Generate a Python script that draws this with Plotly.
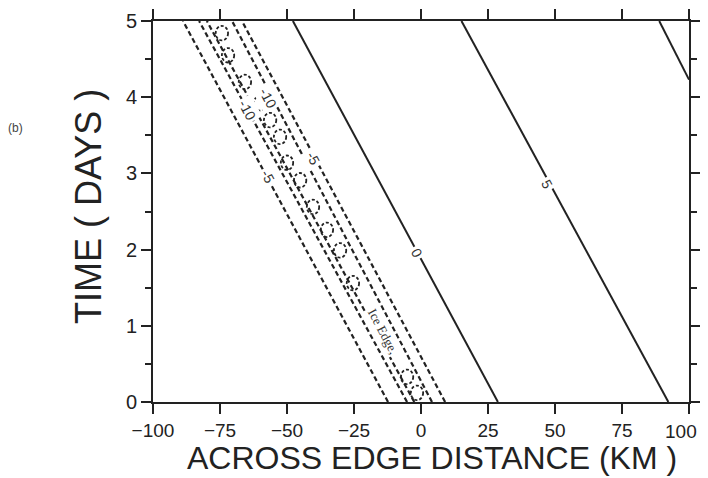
import plotly.graph_objects as go

# ---- data ----
# solid contours (positive values): start/end points (km, days)
solid_labels = ["0", "5", "10"]
solid_x0 = [28.7, 92.3, 100.0]
solid_y0 = [0.0, 0.0, 4.23]
solid_x1 = [-47.8, 15.1, 88.9]
solid_y1 = [5.0, 5.0, 5.0]

# dashed contours (negative values): x at day 0 and day 5 (km)
dashed_levels = ["-5", "-10", "-15", "-10", "-5"]
dashed_x_day0 = [-12.3, -5.2, -2.5, 4.1, 9.0]
dashed_x_day5 = [-88.8, -82.8, -79.9, -70.5, -66.8]

# small closed minima along the ice edge (km, days)
oval_x = [-74.3, -72.0, -65.7, -60.1, -56.3, -52.6, -50.0, -45.1,
          -40.3, -35.1, -30.2, -25.4, -5.2, -1.5]
oval_y = [4.84, 4.55, 4.20, 3.92, 3.70, 3.48, 3.14, 2.91,
          2.56, 2.26, 1.99, 1.56, 0.33, 0.12]

# contour labels (text, km, days)
label_text = ["0", "5", "-10", "-10", "-5", "-5"]
label_x = [-1.5, 47.0, -57.1, -64.9, -40.3, -57.1]
label_y = [1.96, 2.86, 3.99, 3.83, 3.20, 2.95]

x_ticks = [-100, -75, -50, -25, 0, 25, 50, 75, 100]
y_ticks = [0, 1, 2, 3, 4, 5]

FONT = "Liberation Sans, Arial, sans-serif"
ANGLE = 62

fig = go.Figure()

for i in range(len(solid_labels)):
    fig.add_trace(go.Scatter(
        x=[solid_x0[i], solid_x1[i]], y=[solid_y0[i], solid_y1[i]],
        mode="lines", line=dict(color="#222", width=2),
        showlegend=False, hoverinfo="skip"))

for i in range(len(dashed_levels)):
    fig.add_trace(go.Scatter(
        x=[dashed_x_day0[i], dashed_x_day5[i]], y=[0, 5],
        mode="lines", line=dict(color="#222", width=2.2, dash="5px,3px"),
        showlegend=False, hoverinfo="skip"))

shapes = []
for ox, oy in zip(oval_x, oval_y):
    shapes.append(dict(type="circle", xref="x", yref="y",
                       x0=ox - 2.3, x1=ox + 2.3, y0=oy - 0.095, y1=oy + 0.095,
                       line=dict(color="#222", width=1.8, dash="3px,2px")))

annotations = []
for t, lx, ly in zip(label_text, label_x, label_y):
    annotations.append(dict(x=lx, y=ly, xref="x", yref="y", text=t,
                            showarrow=False, textangle=ANGLE,
                            font=dict(family=FONT, size=14, color="#333"),
                            bgcolor="white", borderpad=2))
annotations.append(dict(x=-14.2, y=0.92, xref="x", yref="y", text="Ice Edge,",
                        showarrow=False, textangle=ANGLE,
                        font=dict(family="Liberation Serif, serif", size=13, color="#333"),
                        bgcolor="white", borderpad=1))

# page has an 8px body margin: the figure is drawn offset by (8, 8)
OFF = 8
PAGE_W, PAGE_H = 708, 478
W, H = PAGE_W - OFF, PAGE_H - OFF
# plot-area edges in page pixels
PL, PR, PT, PB = 153, 689, 21, 402
L, R, T, B = PL - OFF, PAGE_W - PR, PT - OFF, PAGE_H - PB
pw, ph = W - L - R, H - T - B

# pixel-placed texts (page pixels, converted to paper coordinates)
pixel_texts = [
    ("ACROSS EDGE DISTANCE (KM )", 432, 458, 0, 32, "#222"),
    ("(b)", 15, 128, 0, 12, "#444"),
    ("TIME ( DAYS )", 88, 207, -90, 36, "#222"),
]
for text, px, py, ang, size, col in pixel_texts:
    annotations.append(dict(x=(px - OFF - L) / pw, y=1 - (py - OFF - T) / ph,
                            xref="paper", yref="paper", text=text,
                            showarrow=False, textangle=ang,
                            xanchor="center", yanchor="middle",
                            font=dict(family=FONT, size=size, color=col)))

def tick_label(v):
    return ("\u2212" + str(-v)) if v < 0 else str(v)

# the last x tick label sits at the right edge; draw it right-aligned so it stays visible
x_ticktext = [tick_label(v) for v in x_ticks[:-1]] + [""]
annotations.append(dict(x=x_ticks[-1], y=0, xref="x", yref="paper",
                        text=tick_label(x_ticks[-1]), showarrow=False,
                        xanchor="right", yanchor="middle", xshift=10, yshift=-29,
                        font=dict(family=FONT, size=19, color="#222")))

fig.update_layout(
    width=W, height=H,
    margin=dict(l=L, r=R, t=T, b=B, autoexpand=False),
    paper_bgcolor="white", plot_bgcolor="white",
    shapes=shapes, annotations=annotations,
    xaxis=dict(range=[-100, 100], tickvals=x_ticks, ticktext=x_ticktext,
               ticks="outside", ticklen=10, tickwidth=2, tickcolor="#222",
               showline=True, linewidth=2, linecolor="#222", mirror="allticks",
               showgrid=False, zeroline=False, automargin=False,
               tickfont=dict(family=FONT, size=19, color="#222")),
    yaxis=dict(range=[0, 5], tickvals=y_ticks,
               ticks="outside", ticklen=10, tickwidth=2, tickcolor="#222",
               minor=dict(dtick=0.5, ticks="outside", ticklen=6, tickwidth=2, tickcolor="#222"),
               showline=True, linewidth=2, linecolor="#222", mirror="allticks",
               showgrid=False, zeroline=False, automargin=False,
               tickfont=dict(family=FONT, size=20, color="#222")),
)

fig.write_html("out.html")
